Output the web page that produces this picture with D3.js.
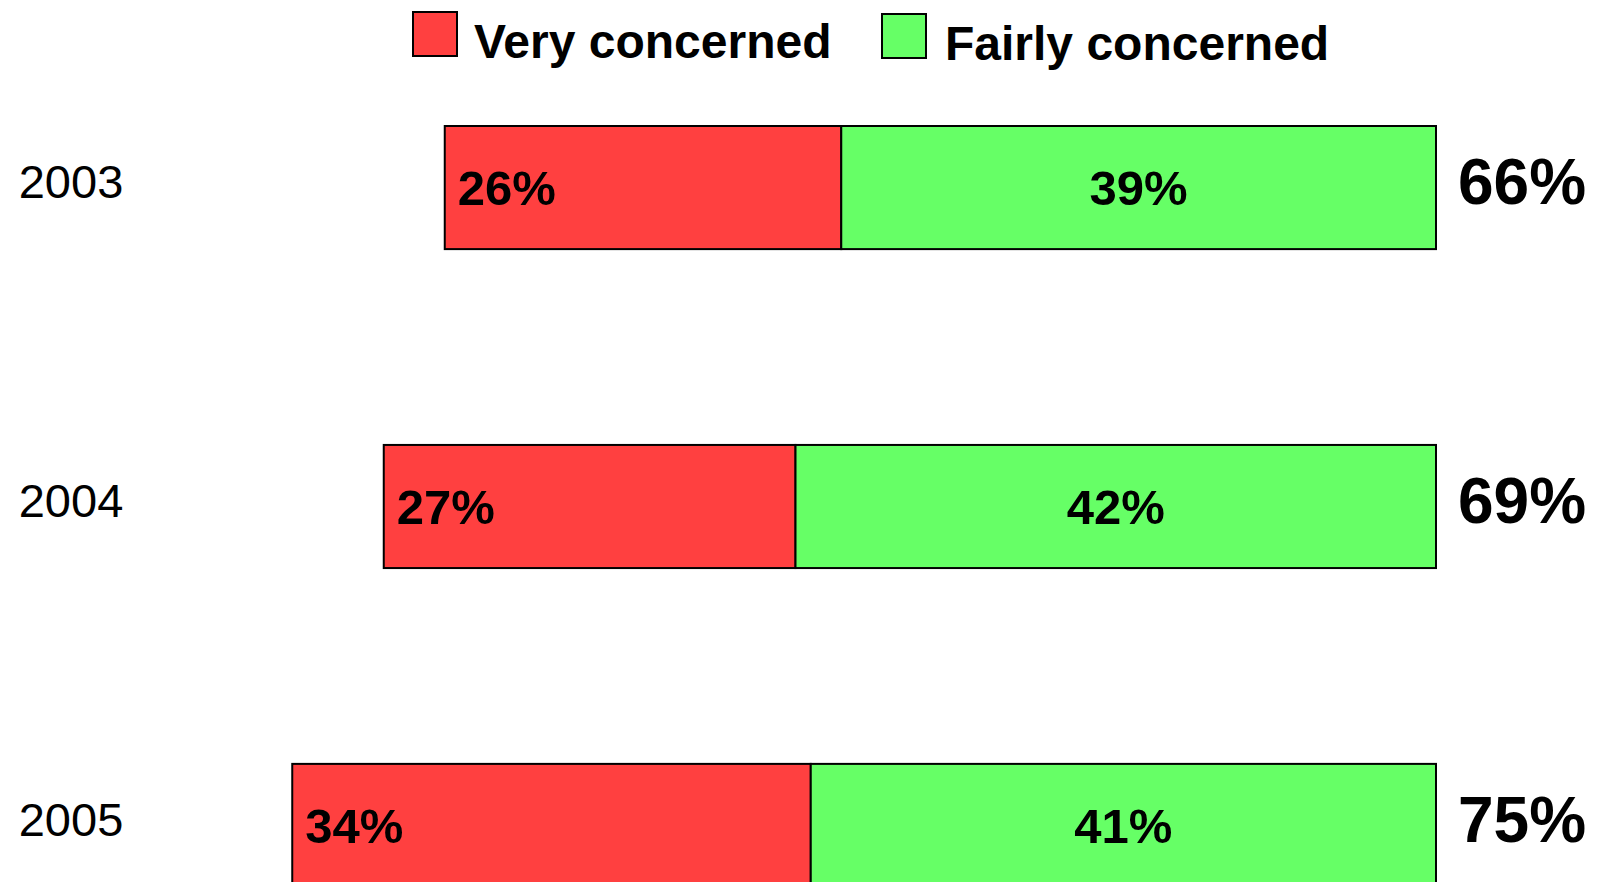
<!DOCTYPE html>
<html>
<head>
<meta charset="utf-8">
<script src="https://cdn.jsdelivr.net/npm/d3@7"></script>
<style>
  html, body { margin: 0; padding: 0; background: #ffffff; }
  svg { display: block; }
  text { font-family: "Liberation Sans", Arial, Helvetica, sans-serif; }
</style>
</head>
<body>
<svg id="chart" width="1606" height="882"></svg>
<script>
// ---- data ----
const years = ["2003", "2004", "2005"];
const seriesNames = ["Very concerned", "Fairly concerned"];
const veryConcerned = [26, 27, 34];
const fairlyConcerned = [39, 42, 41];
const totalLabels = ["66%", "69%", "75%"];
const seriesColors = ["#FF4040", "#66FF66"];

// ---- layout ----
const W = 1606, H = 882;
const svg = d3.select("#chart");

const rightEdge = 1436;
const pxPerPct = 15.25;
const x = d3.scaleLinear().domain([0, 100]).range([rightEdge, rightEdge - 100 * pxPerPct]);

const y = d3.scaleBand()
  .domain(years)
  .range([126, 887])
  .paddingInner(0.614)
  .paddingOuter(0);

const rows = years.map((yr, i) => ({
  year: yr,
  segs: [
    { s: 0, v: veryConcerned[i], x0: fairlyConcerned[i], x1: fairlyConcerned[i] + veryConcerned[i] },
    { s: 1, v: fairlyConcerned[i], x0: 0, x1: fairlyConcerned[i] }
  ],
  total: totalLabels[i]
}));

const g = svg.append("g");

const row = g.selectAll("g.row").data(rows).enter().append("g").attr("class", "row");

row.selectAll("rect").data(d => d.segs.map(s => Object.assign({ year: d.year }, s)))
  .enter().append("rect")
  .attr("x", d => x(d.x1))
  .attr("width", d => x(d.x0) - x(d.x1))
  .attr("y", d => y(d.year))
  .attr("height", y.bandwidth())
  .attr("fill", d => seriesColors[d.s])
  .attr("stroke", "#000")
  .attr("stroke-width", 2);

// very concerned label: left aligned inside red segment
row.append("text")
  .attr("x", d => x(d.segs[0].x1) + 13)
  .attr("y", d => y(d.year) + y.bandwidth() / 2)
  .attr("dy", "0.35em")
  .attr("font-size", 49)
  .attr("font-weight", "bold")
  .attr("fill", "#000")
  .text(d => d.segs[0].v + "%");

// fairly concerned label: centered in green segment
row.append("text")
  .attr("x", d => (x(d.segs[1].x0) + x(d.segs[1].x1)) / 2)
  .attr("y", d => y(d.year) + y.bandwidth() / 2)
  .attr("dy", "0.35em")
  .attr("text-anchor", "middle")
  .attr("font-size", 49)
  .attr("font-weight", "bold")
  .attr("fill", "#000")
  .text(d => d.segs[1].v + "%");

// totals on the right
row.append("text")
  .attr("x", x(0) + 22)
  .attr("y", d => y(d.year) + y.bandwidth() / 2 - 6)
  .attr("dy", "0.35em")
  .attr("font-size", 64)
  .attr("font-weight", "bold")
  .attr("fill", "#000")
  .text(d => d.total);

// year labels on the left
row.append("text")
  .attr("x", 71)
  .attr("y", d => y(d.year) + y.bandwidth() / 2 - 6)
  .attr("dy", "0.35em")
  .attr("text-anchor", "middle")
  .attr("font-size", 47)
  .attr("fill", "#000")
  .text(d => d.year);

// ---- legend ----
const legendX = [413, 882];
const legend = svg.append("g").selectAll("g").data(seriesNames).enter().append("g")
  .attr("transform", (d, i) => `translate(${legendX[i]},${12 + i * 2})`);
legend.append("rect")
  .attr("width", 44).attr("height", 44)
  .attr("fill", (d, i) => seriesColors[i])
  .attr("stroke", "#000").attr("stroke-width", 2);
legend.append("text")
  .attr("x", (d, i) => i === 0 ? 61 : 63)
  .attr("y", 46)
  .attr("font-size", 48)
  .attr("font-weight", "bold")
  .attr("fill", "#000")
  .text(d => d);
</script>
</body>
</html>
